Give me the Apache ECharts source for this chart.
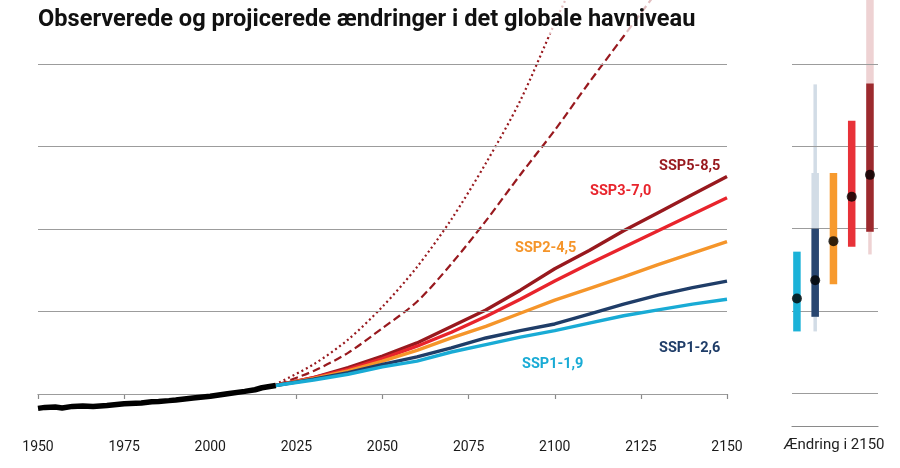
<!DOCTYPE html>
<html>
<head>
<meta charset="utf-8">
<script src="https://cdn.jsdelivr.net/npm/echarts@6/dist/echarts.min.js"></script>
<style>
html,body{margin:0;padding:0;background:#fff;}
#chart{width:900px;height:468px;}
</style>
</head>
<body>
<div id="chart"></div>
<script>
// ---------- DATA ----------
var xTicks = [1950, 1975, 2000, 2025, 2050, 2075, 2100, 2125, 2150];
var gridValues = [0, 0.5, 1, 1.5, 2];

var obsYears  = [1950, 1952, 1955, 1957, 1960, 1963, 1966, 1970, 1975, 1980, 1983, 1985, 1988, 1990, 1995, 2000, 2005, 2010, 2013, 2015, 2019];
var obsValues = [-0.087, -0.081, -0.079, -0.085, -0.075, -0.073, -0.075, -0.069, -0.059, -0.055, -0.047, -0.045, -0.040, -0.036, -0.024, -0.014, 0.002, 0.016, 0.026, 0.038, 0.052];

var projYears = [2019, 2030, 2040, 2050, 2060, 2070, 2080, 2090, 2100, 2110, 2120, 2130, 2140, 2150];
var ssp119 = [0.052, 0.085, 0.12, 0.165, 0.20, 0.255, 0.30, 0.345, 0.385, 0.43, 0.475, 0.51, 0.545, 0.575];
var ssp126 = [0.052, 0.09, 0.13, 0.18, 0.225, 0.28, 0.34, 0.385, 0.425, 0.485, 0.545, 0.60, 0.645, 0.685];
var ssp245 = [0.052, 0.095, 0.14, 0.20, 0.265, 0.34, 0.41, 0.49, 0.57, 0.64, 0.71, 0.785, 0.855, 0.925];
var ssp370 = [0.052, 0.10, 0.15, 0.215, 0.29, 0.375, 0.47, 0.575, 0.685, 0.79, 0.89, 0.99, 1.09, 1.19];
var ssp585 = [0.052, 0.10, 0.16, 0.23, 0.31, 0.41, 0.51, 0.63, 0.76, 0.87, 0.99, 1.10, 1.21, 1.32];

var dashYears  = [2020, 2030, 2040, 2050, 2060, 2070, 2080, 2090, 2100, 2110, 2120, 2130];
var dashValues = [0.06, 0.14, 0.25, 0.40, 0.56, 0.79, 1.05, 1.33, 1.60, 1.89, 2.17, 2.45];
var dotYears   = [2020, 2030, 2040, 2050, 2060, 2070, 2080, 2090, 2100, 2110];
var dotValues  = [0.07, 0.18, 0.33, 0.53, 0.77, 1.06, 1.40, 1.78, 2.25, 2.70];

var scenarioNames = ['SSP1-1,9', 'SSP1-2,6', 'SSP2-4,5', 'SSP3-7,0', 'SSP5-8,5'];
var median2150    = [0.575, 0.686, 0.924, 1.194, 1.327];
var likelyLow     = [0.375, 0.464, 0.662, 0.89, 0.981];
var likelyHigh    = [0.86, 1.0, 1.338, 1.656, 1.883];
var lowConfLow    = [null, 0.464, null, null, 0.981];
var lowConfHigh   = [null, 1.338, null, null, 2.6];
var extremeLow    = [null, 0.375, null, null, 0.843];
var extremeHigh   = [null, 1.877, null, null, 1.883];

// ---------- STYLE ----------
var colors = ['#19abd5', '#1f3d68', '#f5952a', '#e8242c', '#98191e'];
var barColors = ['#1bb2d8', '#284670', '#f79a2e', '#e83239', '#9c2a2e'];
var lightColors = [null, '#d2dce6', null, null, '#eed2d3'];
var gridColor = '#9c9c9c';
var FONT = 'Roboto, "Noto Sans", sans-serif';

function pairs(xs, ys) { return xs.map(function (x, i) { return [x, ys[i]]; }); }

var chart = echarts.init(document.getElementById('chart'), null, {renderer: 'canvas'});

var sspSeries = [ssp119, ssp126, ssp245, ssp370, ssp585];
var series = [];

// gridlines
[0, 1].forEach(function (gi) {
  series.push({
    type: 'line', xAxisIndex: gi, yAxisIndex: gi, data: [], silent: true,
    markLine: {
      silent: true, symbol: 'none', animation: false,
      label: {show: false},
      lineStyle: {color: gridColor, width: 1.2, type: 'solid'},
      data: gridValues.map(function (v) { return {yAxis: v}; })
    }
  });
});

series.push({
  type: 'line', data: pairs(dotYears, dotValues), showSymbol: false, smooth: 0.3,
  lineStyle: {color: '#98191e', width: 2.2, type: [2, 3]}, z: 3
});
series.push({
  type: 'line', data: pairs(dashYears, dashValues), showSymbol: false, smooth: 0.3,
  lineStyle: {color: '#98191e', width: 2.2, type: [8, 4]}, z: 3
});

for (var k = 4; k >= 0; k--) {
  series.push({
    type: 'line', data: pairs(projYears, sspSeries[k]), showSymbol: false,
    lineStyle: {color: colors[k], width: 3.4}, z: 4 + (4 - k)
  });
}
series.push({
  type: 'line', data: pairs(obsYears, obsValues), showSymbol: false,
  lineStyle: {color: '#000', width: 5.5}, z: 10
});

// right panel bars
var barIdx = scenarioNames.map(function (n, i) { return i + 1; });
function rangeSeries(lowArr, highArr, fills, width, z) {
  var d = [];
  for (var i = 0; i < lowArr.length; i++) {
    if (lowArr[i] != null) d.push([barIdx[i], lowArr[i], highArr[i], i]);
  }
  return {
    type: 'custom', xAxisIndex: 1, yAxisIndex: 1, z: z, clip: true,
    data: d,
    renderItem: function (params, api) {
      var x = api.value(0), lo = api.value(1), hi = api.value(2), ci = api.value(3);
      var p1 = api.coord([x, hi]), p2 = api.coord([x, lo]);
      var shape = echarts.graphic.clipRectByRect({
        x: p1[0] - width / 2, y: p1[1], width: width, height: p2[1] - p1[1]
      }, {
        x: params.coordSys.x, y: params.coordSys.y,
        width: params.coordSys.width, height: params.coordSys.height
      });
      return shape && {type: 'rect', shape: shape, style: {fill: fills[ci]}};
    }
  };
}
series.push(rangeSeries(extremeLow, extremeHigh, lightColors, 3.5, 3));
series.push(rangeSeries(lowConfLow, lowConfHigh, lightColors, 7.5, 4));
series.push(rangeSeries(likelyLow, likelyHigh, barColors, 7.5, 5));
series.push({
  type: 'scatter', xAxisIndex: 1, yAxisIndex: 1, z: 8,
  data: pairs(barIdx, median2150), symbolSize: 10,
  itemStyle: {color: '#000'}
});

var labelPos = [
  {x: 522, y: 364}, {x: 659, y: 348}, {x: 515, y: 248}, {x: 590, y: 191}, {x: 659, y: 166.5}
];
var graphics = [
  {type: 'rect', left: 38, top: 0, z: 100, shape: {width: 700, height: 34}, style: {fill: 'rgba(255,255,255,0.72)'}, silent: true},
  {type: 'text', left: 38, top: 8, z: 101, style: {
    text: 'Observerede og projicerede ændringer i det globale havniveau',
    font: 'bold 23.6px ' + FONT, fill: '#111'}},
  {type: 'text', x: 834, y: 445, z: 101, style: {
    text: 'Ændring i 2150', font: '15px ' + FONT, fill: '#222',
    textAlign: 'center', textVerticalAlign: 'middle'}}
];
scenarioNames.forEach(function (n, i) {
  graphics.push({type: 'text', x: labelPos[i].x, y: labelPos[i].y, z: 101, style: {
    text: n, font: 'bold 14.5px ' + FONT, fill: colors[i], textVerticalAlign: 'middle'}});
});

chart.setOption({
  animation: false,
  backgroundColor: '#fff',
  textStyle: {fontFamily: FONT},
  grid: [
    {left: 38, right: 173, top: 0, bottom: 41},
    {left: 792, right: 22, top: 0, bottom: 42}
  ],
  xAxis: [
    {
      type: 'value', gridIndex: 0, min: 1950, max: 2150, interval: 25,
      axisLine: {show: true, lineStyle: {color: '#8a8a8a', width: 1.2}},
      axisTick: {show: true, length: 5, lineStyle: {color: '#8a8a8a', width: 1.2}},
      axisLabel: {color: '#1a1a1a', fontSize: 14, margin: 13, fontFamily: FONT,
        formatter: function (v) { return xTicks.indexOf(v) >= 0 ? String(v) : ''; }},
      splitLine: {show: false}
    },
    {
      type: 'value', gridIndex: 1, min: 0.73, max: 5.44,
      axisLine: {show: true, onZero: false, lineStyle: {color: '#8a8a8a', width: 1.2}},
      axisTick: {show: false}, axisLabel: {show: false}, splitLine: {show: false}
    }
  ],
  yAxis: [
    {type: 'value', gridIndex: 0, min: -0.2, max: 2.39, axisLine: {show: false}, axisTick: {show: false}, axisLabel: {show: false}, splitLine: {show: false}},
    {type: 'value', gridIndex: 1, min: -0.2, max: 2.39, axisLine: {show: false}, axisTick: {show: false}, axisLabel: {show: false}, splitLine: {show: false}}
  ],
  graphic: graphics,
  series: series
});
</script>
</body>
</html>
